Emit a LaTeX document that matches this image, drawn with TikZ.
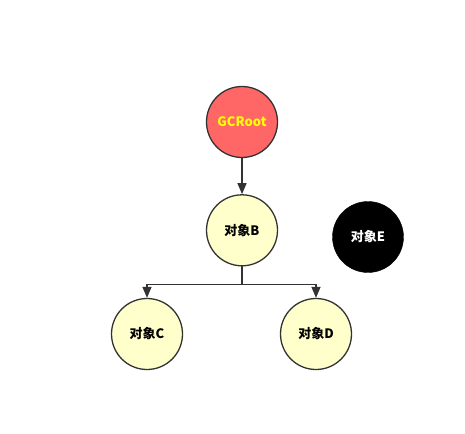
\documentclass[tikz,border=0pt]{standalone}
\usepackage{fontspec}
\usepackage{tikz}
\usetikzlibrary{positioning, arrows.meta}
\newfontfamily\cjk{Noto Sans CJK SC}
\definecolor{edge}{HTML}{333333}
\definecolor{rootred}{HTML}{FF6666}
\definecolor{objyellow}{HTML}{FFFFCC}
\definecolor{textyellow}{HTML}{FFFF00}

\begin{document}
\begin{tikzpicture}[
        x=1pt, y=1pt,
        node distance=36pt,
        root/.style={circle, draw=edge, fill=rootred, line width=1.3pt, minimum size=71pt, inner sep=0pt, font=\cjk\bfseries\fontsize{13}{15}\selectfont, text=textyellow},
        obj/.style={circle, draw=edge, fill=objyellow, line width=1.3pt, minimum size=71pt, inner sep=0pt, font=\cjk\bfseries\fontsize{13}{15}\selectfont},
        dead/.style={circle, draw=black, fill=black, minimum size=71pt, inner sep=0pt, font=\cjk\bfseries\fontsize{13}{15}\selectfont, text=white},
        arrow/.style={-{Triangle[length=11pt, width=9pt]}, draw=edge, line width=1.3pt},
    ]
    \useasboundingbox (0,0) rectangle (465,-433);

    % root and reachable objects
    \node[root] (GC) at (242,-122) {GCRoot};
    \node[obj, below=of GC] (B) {对象B};
    \node[obj] (C) at (147,-334) {对象C};
    \node[obj] (D) at (316,-334) {对象D};

    % unreachable object
    \node[dead] (E) at (368,-237) {对象E};

    \draw[arrow] (GC) -- (B);
    \draw[arrow] (B.south) -- ++(0,-18) -| (C.north);
    \draw[arrow] (B.south) -- ++(0,-18) -| (D.north);

\end{tikzpicture}
\end{document}
